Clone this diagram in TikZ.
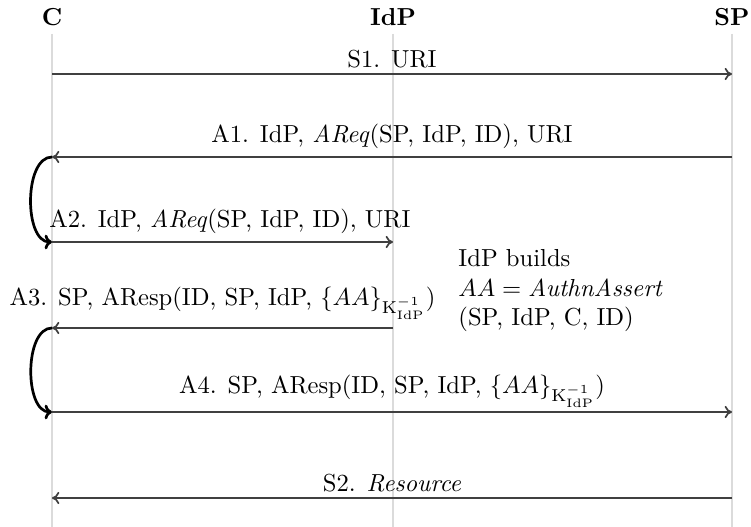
\documentclass[tikz,border=0pt]{standalone}
\usetikzlibrary{arrows.meta}
\begin{document}
\begin{tikzpicture}[x=0.4065pt,y=-0.4065pt,
  actor/.style={font=\bfseries,inner sep=0pt},
  lifeline/.style={black!14,line width=0.5pt},
  msg/.style={black!75,line width=0.7pt,-{To[length=3pt,width=5pt]}},
  loopback/.style={black,line width=1.1pt,-{To[length=3pt,width=6pt]},out=180,in=180,looseness=0.85},
  lbl/.style={above,inner sep=3pt,text=black}]
\useasboundingbox (0,0) rectangle (751,527);

% participants
\node[actor] (C) at (52,17) {C};
\node[actor] (IdP) at (393,17) {IdP};
\node[actor] (SP) at (732,17) {SP};

% lifelines
\coordinate (Cend) at (52,527);
\coordinate (IdPend) at (393,527);
\coordinate (SPend) at (732,527);
\draw[lifeline] (52,34) -- (Cend);
\draw[lifeline] (393,34) -- (IdPend);
\draw[lifeline] (732,34) -- (SPend);

% message end points
\coordinate (s1a) at (52,74);   \coordinate (s1b) at (732,74);
\coordinate (a1a) at (732,157); \coordinate (a1b) at (52,157);
\coordinate (a2a) at (52,242);  \coordinate (a2b) at (393,242);
\coordinate (a3a) at (393,328); \coordinate (a3b) at (52,328);
\coordinate (a4a) at (52,412);  \coordinate (a4b) at (732,412);
\coordinate (s2a) at (732,498); \coordinate (s2b) at (52,498);

% messages
\draw[msg] (s1a) -- (s1b) node[midway,lbl,yshift=-1pt] (l1) {S1. URI};
\draw[msg] (a1a) -- (a1b) node[midway,lbl] (l2) {A1. IdP, \emph{AReq}(SP, IdP, ID), URI};
\draw[msg] (a2a) -- (a2b) node[midway,lbl,xshift=3pt] (l3) {A2. IdP, \emph{AReq}(SP, IdP, ID), URI};
\draw[msg] (a3a) -- (a3b) node[midway,lbl] (l4) {A3. SP, AResp(ID, SP, IdP, $\{AA\}_{\mathrm{K}^{-1}_{\mathrm{IdP}}}$)};
\draw[msg] (a4a) -- (a4b) node[midway,lbl,yshift=-1.6pt] (l5) {A4. SP, AResp(ID, SP, IdP, $\{AA\}_{\mathrm{K}^{-1}_{\mathrm{IdP}}}$)};
\draw[msg] (s2a) -- (s2b) node[midway,lbl,yshift=-1pt] (l6) {S2. \emph{Resource}};

% client-side redirects
\draw[loopback] (a1b) to (a2a);
\draw[loopback] (a3b) to (a4a);

% assertion note
\node[anchor=north west,align=left,inner sep=0pt] (note) at (458,249)
  {IdP builds\\ $AA = \mathit{AuthnAssert}$\\ (SP, IdP, C, ID)};
\end{tikzpicture}
\end{document}
